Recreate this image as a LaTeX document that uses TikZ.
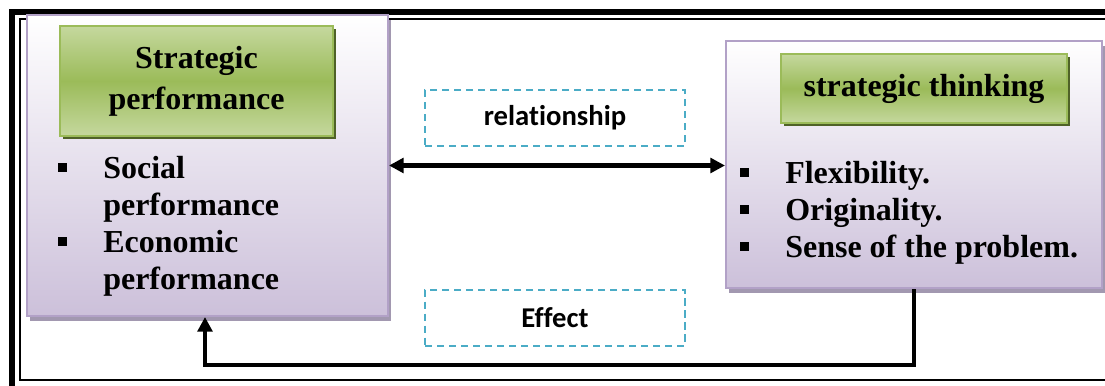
\documentclass[tikz,border=0pt]{standalone}
\usepackage{fontspec}
\setmainfont{Liberation Serif}
\newfontfamily\labelfont[Ligatures=NoCommon]{Carlito}
\usepackage{xcolor}
\definecolor{purp_line}{RGB}{178,161,199}
\definecolor{purp_fill}{RGB}{204,192,218}
\definecolor{purp_shadow}{RGB}{162,152,176}
\definecolor{grn_light}{RGB}{197,216,158}
\definecolor{grn_mid}{RGB}{155,187,89}
\definecolor{grn_shadow}{RGB}{79,98,40}
\definecolor{dash_blue}{RGB}{75,172,198}
\usetikzlibrary{positioning, shadows, arrows.meta}
\newcommand{\sqbullet}{\makebox[33.75pt][l]{\raisebox{4.5pt}{\rule{6.5pt}{6.5pt}}}}
\tikzset{
  bigbox/.style={draw=purp_line, line width=1.5pt, top color=white, bottom color=purp_fill,
    drop shadow={fill=purp_shadow, opacity=1, shadow xshift=2.5pt, shadow yshift=-3.5pt}},
  titlebox/.style={draw=grn_mid, line width=1.5pt, top color=grn_light, bottom color=grn_light,
    middle color=grn_mid, drop shadow={fill=grn_shadow, opacity=1, shadow xshift=2.5pt, shadow yshift=-2.5pt},
    align=center, inner sep=0pt, font=\bfseries\fontsize{24}{31}\selectfont},
  dashbox/.style={draw=dash_blue, line width=1.5pt, dash pattern=on 5.5pt off 3.5pt,
    minimum width=195pt, minimum height=42pt, font=\labelfont\bfseries\fontsize{21.5}{26}\selectfont},
  itemlist/.style={inner sep=0pt, font=\bfseries\fontsize{24}{27.75}\selectfont},
  flow/.style={line width=3.5pt, -{Triangle[length=11pt,width=11pt]}},
  biflow/.style={line width=3.5pt, {Triangle[length=11pt,width=11pt]}-{Triangle[length=11pt,width=11pt]}}
}
\begin{document}
\begin{tikzpicture}[x=0.75pt,y=-0.75pt]
            \useasboundingbox (0,0) rectangle (1105,385);
            %枠
            \draw[line width=4.5pt] (12,12) rectangle (1130,410);
            \draw[line width=1.5pt] (20,19) rectangle (1130,380);
            %左の箱
            \node[bigbox, minimum width=270.75pt, minimum height=225.75pt] (perfbox) at (207.5,165.5) {};
            \node[titlebox, minimum width=204.75pt, minimum height=82.5pt] (perftitle) at (196.5,81) {Strategic\\performance};
            \node[itemlist, anchor=base west] (perfitems) at (58,178) {\begin{tabular}[t]{@{}l@{}}
              \sqbullet Social\\ \hspace*{33.75pt}performance\\
              \sqbullet Economic\\ \hspace*{33.75pt}performance\end{tabular}};
            %右の箱
            \node[bigbox, minimum width=282pt, minimum height=185.25pt] (thinkbox) at (914,164.5) {};
            \node[titlebox, minimum width=214.5pt, minimum height=51.75pt] (thinktitle) at (924,88.5) {strategic thinking};
            \node[itemlist, anchor=base west] (thinkitems) at (740,183) {\begin{tabular}[t]{@{}l@{}}
              \sqbullet Flexibility.\\ \sqbullet Originality.\\ \sqbullet Sense of the problem.\end{tabular}};
            %点線の箱
            \node[dashbox] (rel) at (555,118) {relationship};
            \node[dashbox] (eff) at (555,317.5) {Effect};
            %矢印
            \coordinate (effcorner) at (205,365);
            \draw[biflow] (perfbox.east) -- (perfbox.east -| thinkbox.west);
            \draw[flow] (thinkbox.south) |- (effcorner) -- (perfbox.south -| effcorner);
        \end{tikzpicture}
\end{document}
